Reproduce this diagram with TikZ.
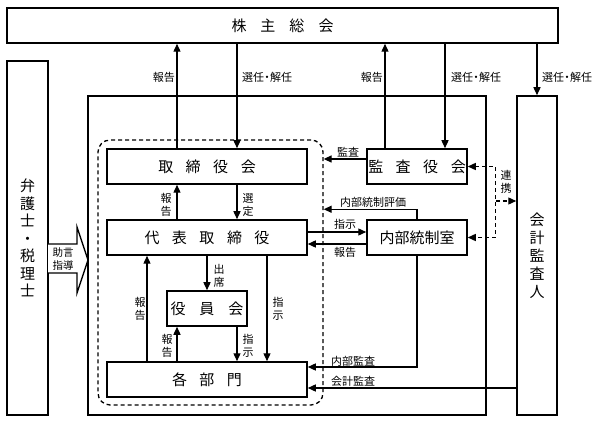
\documentclass[tikz,border=0pt]{standalone}
\usepackage{fontspec}
\setmainfont{Noto Sans CJK JP}
\usetikzlibrary{arrows.meta}
\newcommand\gp{\hspace{12.5pt}}
\newcommand\gpw{\hspace{14pt}}
\newcommand\dt{\makebox[6pt]{・}}
\begin{document}
\begin{tikzpicture}[x=1pt,y=-1pt,
  box/.style={draw, line width=1.5pt, inner sep=0pt, font=\fontsize{15}{18}\selectfont},
  arr/.style={line width=1.3pt, -{Triangle[length=8pt,width=7pt]}},
  tipboth/.style={line width=1.3pt, {Triangle[length=8pt,width=7pt]}-{Triangle[length=8pt,width=7pt]}},
  lbl/.style={font=\fontsize{11}{13.5}\selectfont, inner sep=0pt, align=center},
  dsh/.style={line width=1.3pt, dash pattern=on 4pt off 3pt}]
\useasboundingbox (0,0) rectangle (600,422);

% frames
\node[draw, line width=1.5pt, minimum width=398pt, minimum height=319pt] (comp) at (287,255.5) {};
\node[draw, dsh, rounded corners=12pt, minimum width=225pt, minimum height=265pt] (grp) at (210.5,272.5) {};

% boxes
\node[box, minimum width=551pt, minimum height=35pt] (kabu) at (282.5,25.5) {株\gpw 主\gpw 総\gpw 会};
\node[box, minimum width=41pt, minimum height=354pt, align=center, font=\fontsize{15}{17.5}\selectfont] (bengo) at (27.5,238) {弁\\護\\士\\・\\税\\理\\士};
\node[box, minimum width=40pt, minimum height=319pt, align=center, font=\fontsize{15}{18}\selectfont] (kaikei) at (537,255.5) {会\\計\\監\\査\\人};
\node[box, minimum width=200pt, minimum height=35pt] (tori) at (207,166.5) {取\gp 締\gp 役\gp 会};
\node[box, minimum width=200pt, minimum height=35pt] (daihyo) at (207,237.5) {代\gp 表\gp 取\gp 締\gp 役};
\node[box, minimum width=80pt, minimum height=35pt] (yakuin) at (207,308.5) {役\gpw 員\gpw 会};
\node[box, minimum width=200pt, minimum height=35pt] (kakubu) at (207,379.5) {各\gp 部\gp 門};
\node[box, minimum width=100pt, minimum height=35pt] (kansa) at (417,166.5) {監\gp 査\gp 役\gp 会};
\node[box, minimum width=100pt, minimum height=35pt] (naibu) at (417,237.5) {内部統制室};

% shareholders meeting arrows
\coordinate (a1) at ([xshift=-30pt]tori.north);
\draw[arr] (a1) -- (a1 |- kabu.south);
\coordinate (a2) at ([xshift=30pt]tori.north);
\draw[arr] (a2 |- kabu.south) -- (a2);
\coordinate (a3) at ([xshift=-32pt]kansa.north);
\draw[arr] (a3) -- (a3 |- kabu.south);
\coordinate (a4) at ([xshift=28pt]kansa.north);
\draw[arr] (a4 |- kabu.south) -- (a4);
\draw[arr] (kabu.south -| kaikei.north) -- (kaikei.north);

% board <-> representative
\coordinate (b1) at ([xshift=-30pt]daihyo.north);
\draw[arr] (b1) -- (b1 |- tori.south);
\coordinate (b2) at ([xshift=30pt]tori.south);
\draw[arr] (b2) -- (b2 |- daihyo.north);

% representative / officers / departments
\draw[arr] (daihyo.south) -- (yakuin.north);
\coordinate (c1) at ([xshift=-60pt]kakubu.north);
\draw[arr] (c1) -- (c1 |- daihyo.south);
\coordinate (c2) at ([xshift=60pt]daihyo.south);
\draw[arr] (c2) -- (c2 |- kakubu.north);
\coordinate (c3) at ([xshift=-30pt]kakubu.north);
\draw[arr] (c3) -- (c3 |- yakuin.south);
\coordinate (c4) at ([xshift=30pt]yakuin.south);
\draw[arr] (c4) -- (c4 |- kakubu.north);

% audit board
\coordinate (d1) at ([yshift=7.5pt]kansa.west);
\draw[arr] (d1) -- (d1 -| grp.east);

% internal control
\coordinate (e1) at ([yshift=10pt]naibu.north);
\draw[arr] (naibu.north) -- (e1) -- (e1 -| grp.east);
\coordinate (f1) at ([yshift=5.5pt]daihyo.east);
\draw[arr] (f1) -- (f1 -| naibu.west);
\coordinate (f2) at ([yshift=-6.5pt]naibu.west);
\draw[arr] (f2) -- (f2 -| daihyo.east);

% cooperation (dashed)
\coordinate (g1) at ([xshift=28pt]kansa.east);
\draw[dsh, tipboth] (kansa.east) -- (g1) |- (naibu.east);
\coordinate (g2) at ([yshift=-34.5pt]g1);
\draw[dsh, arr] (g2) -- (g2 -| kaikei.west);

% audits to departments
\coordinate (h0) at ([yshift=12.5pt]kakubu.east);
\draw[arr] (naibu.south) |- (h0);
\coordinate (h2) at ([yshift=-8.5pt]kakubu.east);
\draw[arr] (h2 -| kaikei.west) -- (h2);

% advice block arrow
\draw[line width=1.3pt, fill=white] (48,244) -- (77,244) -- (77,227) -- (88,260) -- (77,293) -- (77,273) -- (48,273);
\node[lbl, font=\fontsize{10.5}{13}\selectfont] (jogen) at (63,259) {助言\\指導};

% labels
\node[lbl, anchor=east] (l1) at (175,77) {報告};
\node[lbl, anchor=west] (l2) at (242,77) {選任\dt 解任};
\node[lbl, anchor=east] (l3) at (383,77) {報告};
\node[lbl, anchor=west] (l4) at (451,77) {選任\dt 解任};
\node[lbl, anchor=west] (l5) at (542,77) {選任\dt 解任};
\node[lbl] (l6) at (166,205) {報\\告};
\node[lbl] (l7) at (248,205) {選\\定};
\node[lbl] (l8) at (348,152) {監査};
\node[lbl] (l9) at (373,202) {内部統制評価};
\node[lbl] (l10) at (345,224) {指示};
\node[lbl] (l11) at (345,252) {報告};
\node[lbl] (l12) at (506,182) {連\\携};
\node[lbl] (l13) at (219,276) {出\\席};
\node[lbl] (l14) at (140,309) {報\\告};
\node[lbl] (l15) at (278,309) {指\\示};
\node[lbl] (l16) at (167,346) {報\\告};
\node[lbl] (l17) at (248,346) {指\\示};
\node[lbl] (l18) at (353,361) {内部監査};
\node[lbl] (l19) at (353,381) {会計監査};
\end{tikzpicture}
\end{document}
